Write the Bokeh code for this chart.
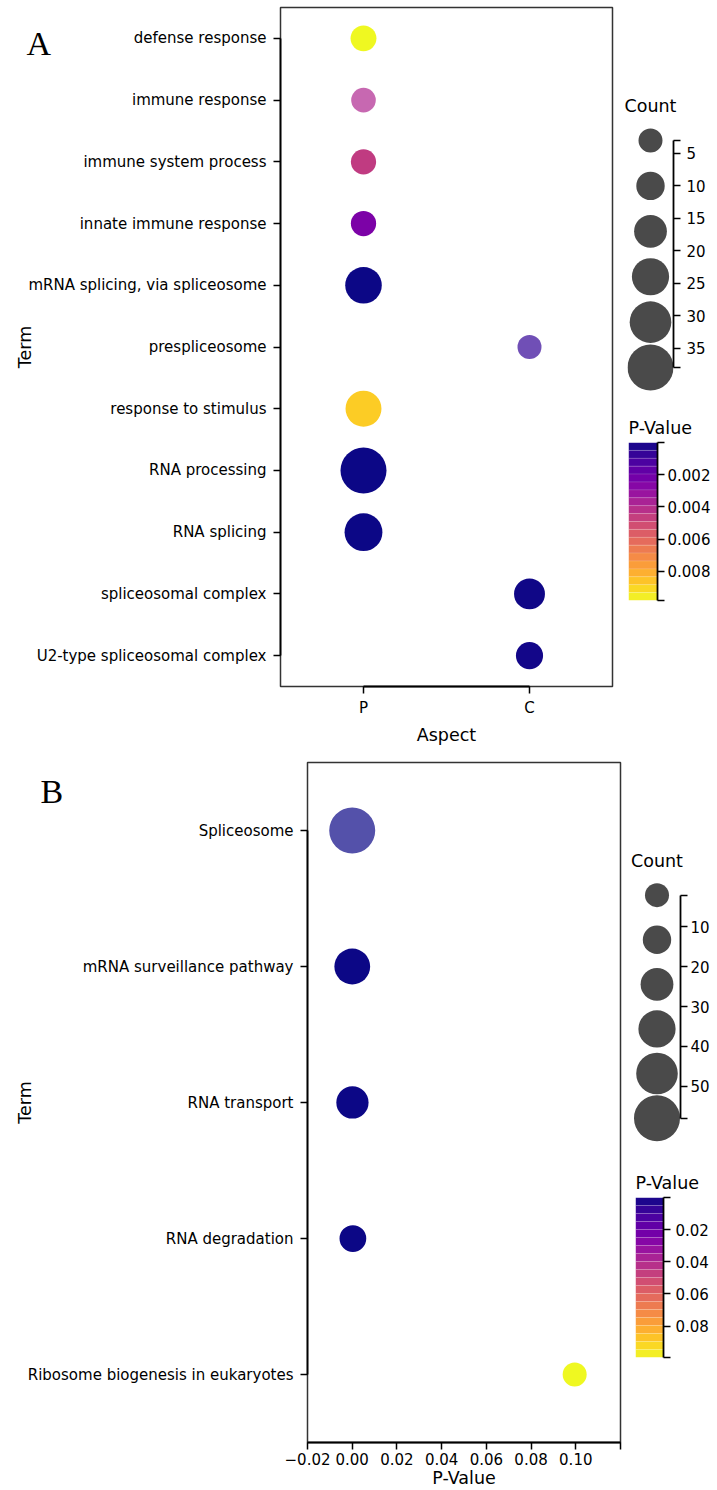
import numpy as np
from bokeh.plotting import figure
from bokeh.layouts import row, column
from bokeh.models import Range1d, FixedTicker, ColumnDataSource
from bokeh.core.properties import value
from bokeh.palettes import Plasma256
from bokeh.transform import linear_cmap
from bokeh.embed import file_html
from bokeh.resources import INLINE

# ---------------- data: panel A (GO terms) ----------------
terms_a = ["defense response", "immune response", "immune system process",
           "innate immune response", "mRNA splicing, via spliceosome", "prespliceosome",
           "response to stimulus", "RNA processing", "RNA splicing",
           "spliceosomal complex", "U2-type spliceosomal complex"]
aspect_cats = ["P", "C"]
aspect_a = ["P", "P", "P", "P", "P", "C", "P", "P", "P", "C", "C"]
count_a = [6, 4, 5, 5, 23, 3, 22, 38, 25, 14, 8]
pval_a = [0.0098, 0.0039, 0.0045, 0.00245, 0.00003, 0.0007, 0.0088,
          0.000012, 0.00002, 0.00006, 0.00009]
alpha_a = [1, 0.7, 1, 1, 1, 0.7, 1, 1, 1, 1, 1]
count_ticks_a = [5, 10, 15, 20, 25, 30, 35]
pval_ticks_a = [0.002, 0.004, 0.006, 0.008]

# ---------------- data: panel B (KEGG pathways) ----------------
terms_b = ["Spliceosome", "mRNA surveillance pathway", "RNA transport",
           "RNA degradation", "Ribosome biogenesis in eukaryotes"]
count_b = [58, 32, 23, 9, 2]
pval_b = [0.000001, 0.00002, 0.0001, 0.0003, 0.0995]
alpha_b = [0.7, 1, 1, 1, 1]
count_ticks_b = [10, 20, 30, 40, 50]
pval_ticks_b = [0.02, 0.04, 0.06, 0.08]
xticks_b = [-0.02, 0.0, 0.02, 0.04, 0.06, 0.08, 0.10]
xlim_b = (-0.02, 0.12)

panel_letters = ["A", "B"]

FONT = "DejaVu Sans"
TICK_FS = "15px"
LAB_FS = "17.5px"
DMIN, DMAX = 24, 46
N_BANDS = 20


def diam(c, cmin, cmax):
    return DMIN + (np.asarray(c, float) - cmin) / (cmax - cmin) * (DMAX - DMIN)


def style_axis(ax, standoff=6):
    ax.axis_line_color = "black"
    ax.axis_line_width = 1.8
    ax.major_tick_line_color = "black"
    ax.major_tick_line_width = 1.5
    ax.major_tick_out = 7
    ax.major_tick_in = 0
    ax.minor_tick_line_color = None
    ax.major_label_text_font = FONT
    ax.major_label_text_font_size = TICK_FS
    ax.major_label_text_color = "black"
    ax.major_label_standoff = standoff
    ax.axis_label_text_font = FONT
    ax.axis_label_text_font_size = LAB_FS
    ax.axis_label_text_font_style = "normal"
    ax.axis_label_text_color = "black"


def base(**kw):
    p = figure(output_backend="svg", toolbar_location=None, **kw)
    p.xgrid.visible = False
    p.ygrid.visible = False
    p.background_fill_color = "white"
    p.border_fill_color = "white"
    return p


def fmt(t):
    return f"{t:g}"


def style_title(p, text, align):
    p.title.text = text
    p.title.text_font = FONT
    p.title.text_font_size = LAB_FS
    p.title.text_font_style = "normal"
    p.title.text_color = "black"
    p.title.align = align


def count_legend(counts, ticks, width, height, bl, br, bt, bb, standoff):
    cmin, cmax = min(counts), max(counts)
    span = cmax - cmin
    p = base(width=width, height=height,
             x_range=Range1d(-1, 1),
             y_range=Range1d(cmax + 0.145 * span, cmin - 0.088 * span),
             x_axis_location=None, y_axis_location="right",
             min_border_left=bl, min_border_right=br,
             min_border_top=bt, min_border_bottom=bb)
    p.outline_line_color = None
    vals = np.linspace(cmin, cmax, 6)
    p.scatter(x=np.zeros(6), y=vals, size=diam(vals, cmin, cmax),
              fill_color="#4a4a4a", line_color=None)
    ax = p.yaxis[0]
    style_axis(ax, standoff)
    ax.ticker = FixedTicker(ticks=[cmin] + ticks + [cmax])
    ov = {t: fmt(t) for t in ticks}
    ov[cmin] = ""
    ov[cmax] = ""
    ax.major_label_overrides = ov
    ax.bounds = (cmin, cmax)
    style_title(p, "Count", "center")
    return p


def pval_bar(pvals, ticks, width, height, bl, br, bt, bb, standoff):
    vmin, vmax = min(pvals), max(pvals)
    p = base(width=width, height=height,
             x_range=Range1d(0, 1), y_range=Range1d(vmax, vmin),
             x_axis_location=None, y_axis_location="right",
             min_border_left=bl, min_border_right=br,
             min_border_top=bt, min_border_bottom=bb)
    p.outline_line_color = None
    edges = np.linspace(vmin, vmax, N_BANDS + 1)
    cols = [Plasma256[int(round((i + 0.5) / N_BANDS * 255))] for i in range(N_BANDS)]
    p.quad(left=0, right=1, bottom=edges[:-1], top=edges[1:],
           fill_color=cols, line_color="white", line_alpha=0.25, line_width=0.5)
    ax = p.yaxis[0]
    style_axis(ax, standoff)
    ax.ticker = FixedTicker(ticks=[vmin] + ticks + [vmax])
    ov = {t: fmt(t) for t in ticks}
    ov[vmin] = ""
    ov[vmax] = ""
    ax.major_label_overrides = ov
    ax.bounds = (vmin, vmax)
    style_title(p, "P-Value", "left")
    return p


def letter_overlay(letter, w, h, tx, ty, host_width):
    # transparent overlay carrying the panel letter, pulled back over the host plot
    p = figure(output_backend="svg", toolbar_location=None, width=w, height=h,
               x_range=Range1d(0, w), y_range=Range1d(h, 0),
               x_axis_location=None, y_axis_location=None,
               min_border=0, min_border_left=0, min_border_right=0,
               min_border_top=0, min_border_bottom=0)
    p.xgrid.visible = False
    p.ygrid.visible = False
    p.background_fill_color = None
    p.border_fill_color = None
    p.outline_line_color = None
    p.text(x=[tx], y=[ty], text=[letter], text_align="left",
           text_baseline="alphabetic", text_font=value("Liberation Serif"),
           text_font_size="34px", text_color="black")
    wrap = row(p)
    wrap.margin = (0, host_width - w, 0, -host_width)
    return wrap


# ---------------- panel A main ----------------
na = len(terms_a)
pA = base(width=614, height=750,
          x_range=Range1d(-0.5, len(aspect_cats) - 0.5),
          y_range=Range1d(na - 0.5, -0.5),
          min_border_left=280, min_border_right=2,
          min_border_top=7, min_border_bottom=64)
pA.outline_line_color = "#333333"
pA.outline_line_width = 1.5
srcA = ColumnDataSource(dict(
    x=[aspect_cats.index(a) for a in aspect_a],
    y=list(range(na)),
    size=diam(count_a, min(count_a), max(count_a)),
    pval=pval_a, alpha=alpha_a))
pA.scatter("x", "y", size="size", source=srcA, line_color=None, fill_alpha="alpha",
           fill_color=linear_cmap("pval", Plasma256, low=min(pval_a), high=max(pval_a)))
style_axis(pA.xaxis[0], 5)
pA.xaxis.ticker = FixedTicker(ticks=list(range(len(aspect_cats))))
pA.xaxis.major_label_overrides = {i: c for i, c in enumerate(aspect_cats)}
pA.xaxis.bounds = (0, len(aspect_cats) - 1)
pA.xaxis.axis_label = "Aspect"
style_axis(pA.yaxis[0], 7)
pA.yaxis.ticker = FixedTicker(ticks=list(range(na)))
pA.yaxis.major_label_overrides = {i: t for i, t in enumerate(terms_a)}
pA.yaxis.bounds = (0, na - 1)
pA.yaxis.axis_label = "Term"
pA.yaxis.axis_label_standoff = -10

letA = letter_overlay(panel_letters[0], 90, 100, 26, 43, 614)
cA = count_legend(count_a, count_ticks_a, 103, 410, 13, 44, 120, 10, 6)
bA = pval_bar(pval_a, pval_ticks_a, 103, 210, 14, 60, 32, 20, 3)

# ---------------- panel B main ----------------
nb = len(terms_b)
pB = base(width=622, height=740,
          x_range=Range1d(*xlim_b),
          y_range=Range1d(nb - 0.5, -0.5),
          min_border_left=307, min_border_right=2,
          min_border_top=12, min_border_bottom=45)
pB.outline_line_color = "#333333"
pB.outline_line_width = 1.5
srcB = ColumnDataSource(dict(
    x=pval_b, y=list(range(nb)),
    size=diam(count_b, min(count_b), max(count_b)),
    pval=pval_b, alpha=alpha_b))
pB.scatter("x", "y", size="size", source=srcB, line_color=None, fill_alpha="alpha",
           fill_color=linear_cmap("pval", Plasma256, low=min(pval_b), high=max(pval_b)))
style_axis(pB.xaxis[0], 3)
pB.xaxis.ticker = FixedTicker(ticks=xticks_b + [xlim_b[1]])
ov = {t: f"{t:.2f}".replace("-", "\u2212") for t in xticks_b}
ov[xlim_b[1]] = ""
pB.xaxis.major_label_overrides = ov
pB.xaxis.bounds = xlim_b
pB.xaxis.axis_label = "P-Value"
pB.xaxis.axis_label_standoff = 0
style_axis(pB.yaxis[0], 7)
pB.yaxis.ticker = FixedTicker(ticks=list(range(nb)))
pB.yaxis.major_label_overrides = {i: t for i, t in enumerate(terms_b)}
pB.yaxis.bounds = (0, nb - 1)
pB.yaxis.axis_label = "Term"
pB.yaxis.axis_label_standoff = -10

letB = letter_overlay(panel_letters[1], 90, 100, 40, 41, 622)
cB = count_legend(count_b, count_ticks_b, 95, 415, 11, 37, 125, 15, 3)
bB = pval_bar(pval_b, pval_ticks_b, 95, 212, 13, 54, 32, 20, 5)

layout = column(row(pA, letA, column(cA, row(bA))),
                row(pB, letB, column(cB, row(bB))))
open("out.html", "w").write(file_html(layout, INLINE))
